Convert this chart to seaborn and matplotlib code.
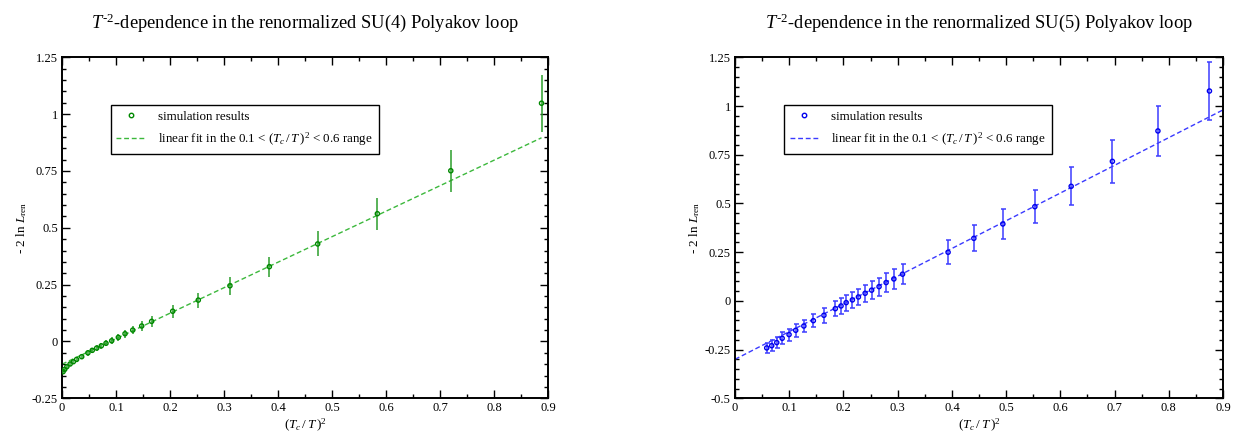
import numpy as np
import pandas as pd
import matplotlib
matplotlib.use("Agg")
import matplotlib.pyplot as plt
from matplotlib.ticker import MultipleLocator, FuncFormatter
from matplotlib.lines import Line2D
import seaborn as sns

# ---------------- data ----------------
su4_x = [0.002, 0.005, 0.009, 0.015, 0.021, 0.027, 0.0365, 0.048, 0.056, 0.0643,
         0.0728, 0.0815, 0.092, 0.1043, 0.1167, 0.131, 0.1476, 0.166, 0.205, 0.2524,
         0.311, 0.384, 0.4735, 0.584, 0.72, 0.888]
su4_y = [-0.133, -0.123, -0.111, -0.099, -0.089, -0.079, -0.067, -0.050, -0.039, -0.029,
         -0.019, -0.008, 0.003, 0.018, 0.034, 0.050, 0.068, 0.0885, 0.133, 0.182,
         0.245, 0.329, 0.429, 0.562, 0.751, 1.048]
su4_err = [0.008, 0.008, 0.009, 0.009, 0.010, 0.010, 0.011, 0.012, 0.012, 0.013,
           0.014, 0.014, 0.015, 0.016, 0.017, 0.018, 0.020, 0.0235, 0.028, 0.033,
           0.040, 0.044, 0.055, 0.070, 0.092, 0.125]
su4_fit_x = [0.0, 0.888]
su4_fit_y = [-0.100, 0.896]

su5_x = [0.0585, 0.0677, 0.077, 0.087, 0.0997, 0.112, 0.127, 0.1445, 0.164, 0.185,
         0.1956, 0.205, 0.2165, 0.2276, 0.240, 0.252, 0.2657, 0.2787, 0.293, 0.309,
         0.393, 0.4405, 0.494, 0.553, 0.620, 0.696, 0.780, 0.875]
su5_y = [-0.2415, -0.230, -0.214, -0.192, -0.173, -0.151, -0.129, -0.1015, -0.074, -0.040,
         -0.026, -0.009, 0.005, 0.020, 0.039, 0.055, 0.073, 0.094, 0.1125, 0.137,
         0.2495, 0.321, 0.3947, 0.4835, 0.588, 0.716, 0.872, 1.077]
su5_err = [0.027, 0.028, 0.029, 0.030, 0.031, 0.032, 0.033, 0.035, 0.037, 0.039,
           0.040, 0.041, 0.042, 0.043, 0.044, 0.045, 0.046, 0.048, 0.050, 0.051,
           0.062, 0.067, 0.075, 0.084, 0.097, 0.109, 0.126, 0.151]
su5_fit_x = [0.0, 0.9]
su5_fit_y = [-0.300, 0.980]

titles = ["$T^{\\text{-2}}$-dependence in the renormalized SU(4) Polyakov loop",
          "$T^{\\text{-2}}$-dependence in the renormalized SU(5) Polyakov loop"]
x_ticks = [0, 0.1, 0.2, 0.3, 0.4, 0.5, 0.6, 0.7, 0.8, 0.9]
su4_yticks = [-0.25, 0, 0.25, 0.5, 0.75, 1, 1.25]
su5_yticks = [-0.5, -0.25, 0, 0.25, 0.5, 0.75, 1, 1.25]
legend_labels = ["simulation results",
                 "linear fit in the 0.1 < $(T_c\\,/\\,T\\,)^2$ < 0.6 range"]

# ---------------- style ----------------
sns.set_theme(style="ticks")
plt.rcParams["font.family"] = ["Liberation Serif", "DejaVu Serif"]
plt.rcParams["mathtext.fontset"] = "custom"
plt.rcParams["mathtext.rm"] = "Liberation Serif"
plt.rcParams["mathtext.it"] = "Liberation Serif:italic"
plt.rcParams["mathtext.bf"] = "Liberation Serif:bold"
plt.rcParams["axes.unicode_minus"] = False
for k in ["text.color", "axes.labelcolor", "xtick.color", "ytick.color",
          "axes.edgecolor", "xtick.labelcolor", "ytick.labelcolor"]:
    plt.rcParams[k] = "black"

fig = plt.figure(figsize=(12.4, 4.41), dpi=100)
ax1 = fig.add_axes([62 / 1240, 1 - 398.3 / 441, 486 / 1240, 341 / 441])
ax2 = fig.add_axes([735 / 1240, 1 - 398.3 / 441, 488 / 1240, 341 / 441])

fmt = FuncFormatter(lambda v, p: "%g" % v)


def panel(ax, xs, ys, errs, fx, fy, title, yticks, ylim, mcol, ecol, lcol, capsize):
    df = pd.DataFrame({"x": xs, "y": ys})
    fit = pd.DataFrame({"x": fx, "y": fy})
    sns.lineplot(data=fit, x="x", y="y", ax=ax, color=lcol, lw=1.0,
                 linestyle=(0, (3.5, 2.0)), zorder=2)
    ax.errorbar(xs, ys, yerr=errs, fmt="none", ecolor=ecol, elinewidth=1.1,
                capsize=capsize, capthick=1.1, zorder=3)
    sns.scatterplot(data=df, x="x", y="y", ax=ax, marker="o", s=9,
                    facecolor="none", edgecolor=mcol, linewidth=1.0, zorder=4)
    ax.set_xlim(0, 0.9)
    ax.set_ylim(*ylim)
    ax.set_xticks(x_ticks)
    ax.set_yticks(yticks)
    ax.xaxis.set_minor_locator(MultipleLocator(0.05))
    ax.yaxis.set_minor_locator(MultipleLocator(0.05))
    ax.xaxis.set_major_formatter(fmt)
    ax.yaxis.set_major_formatter(fmt)
    ax.tick_params(which="both", direction="in", top=True, right=True,
                   labelsize=9, colors="black", width=1.0, pad=3)
    ax.tick_params(which="major", length=6)
    ax.tick_params(which="minor", length=3)
    for s in ax.spines.values():
        s.set_visible(True)
        s.set_linewidth(1.4)
        s.set_color("black")
    ax.set_xlabel("$(T_c\\,/\\,T\\,)^2$", fontsize=9.5, labelpad=2)
    ax.set_ylabel("- 2 ln $L_{\\rm ren}$", fontsize=9.5, labelpad=2)
    ax.set_title(title, fontsize=13.3, pad=21, color="black")
    handles = [Line2D([], [], marker="o", ls="none", ms=3.2, mfc="none",
                      mec=mcol, mew=1.0),
               Line2D([], [], color=lcol, lw=1.0, ls=(0, (3.5, 2.0)))]
    leg = ax.legend(handles, legend_labels, loc="upper left",
                    bbox_to_anchor=(0.10, 0.86), borderaxespad=0, fontsize=9.4,
                    frameon=True, fancybox=False, edgecolor="black",
                    handlelength=2.2, handletextpad=1.0, borderpad=0.45,
                    labelspacing=0.55)
    leg.get_frame().set_linewidth(1.0)
    leg.get_frame().set_alpha(1)


panel(ax1, su4_x, su4_y, su4_err, su4_fit_x, su4_fit_y, titles[0], su4_yticks,
      (-0.25, 1.25), "#008800", "#2b9e2b", "#3cb83c", 0)
panel(ax2, su5_x, su5_y, su5_err, su5_fit_x, su5_fit_y, titles[1], su5_yticks,
      (-0.5, 1.25), "#0000ee", "#3d3dff", "#3a3aff", 1.8)

fig.savefig("out.png", dpi=100)
